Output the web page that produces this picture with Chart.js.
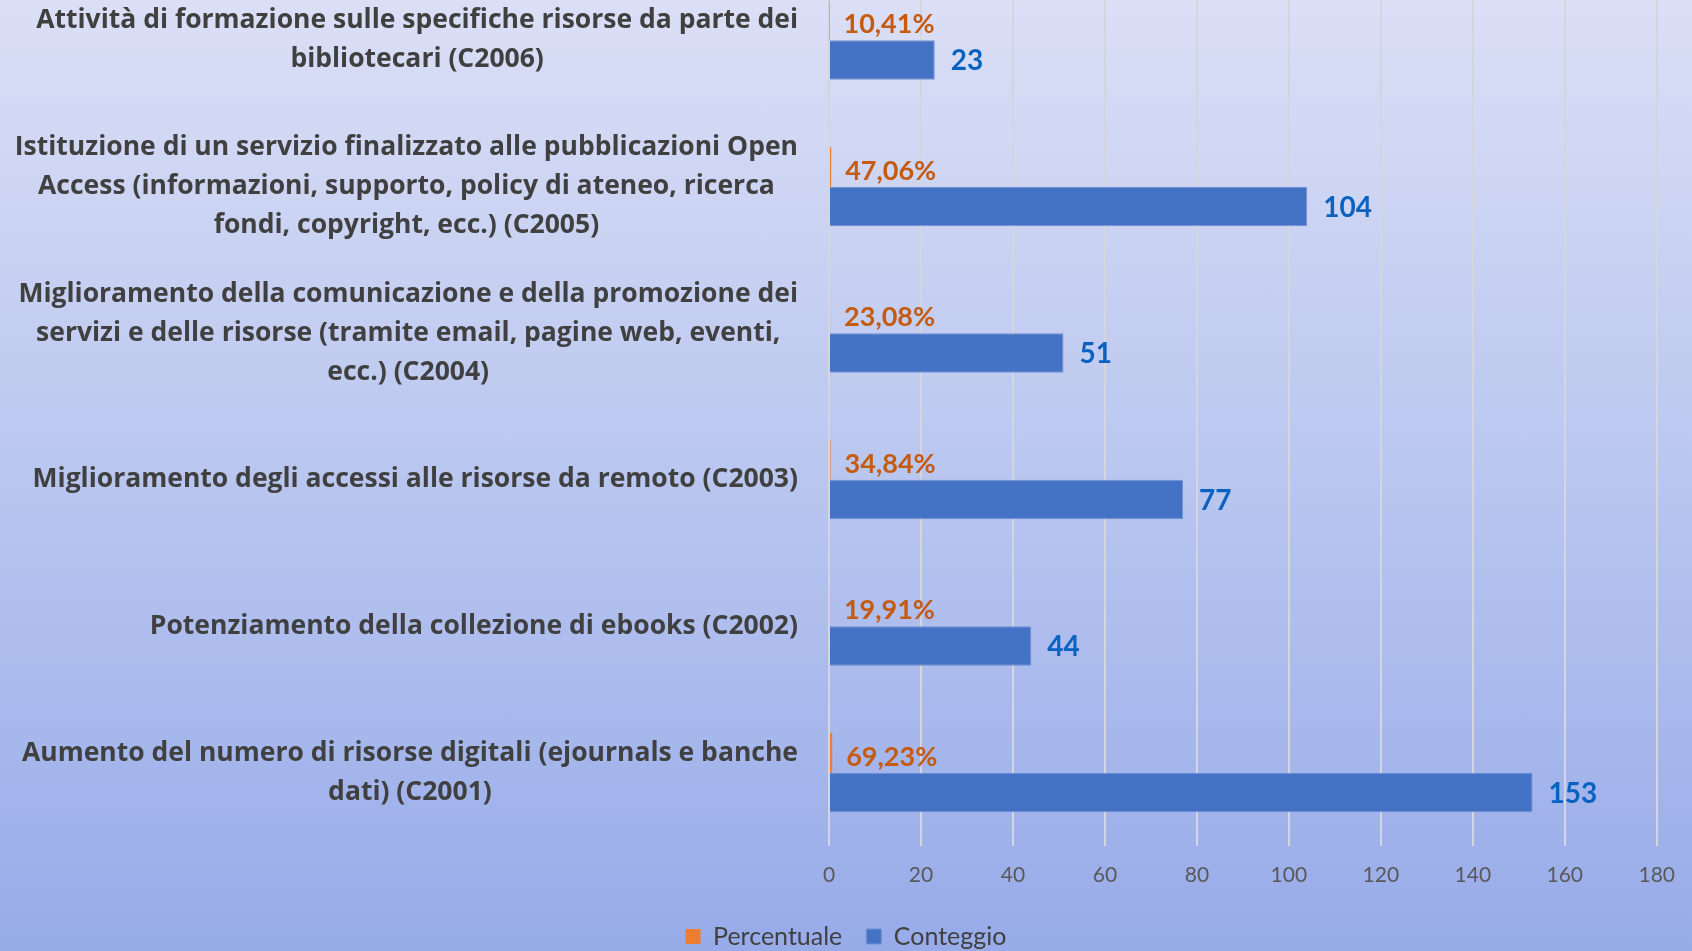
<!DOCTYPE html>
<html>
<head>
<meta charset="utf-8">
<script src="https://cdn.jsdelivr.net/npm/chart.js@4.4.1/dist/chart.umd.min.js"></script>
<style>
  html, body { margin: 0; padding: 0; width: 1692px; height: 951px; overflow: hidden; }
  body { background: linear-gradient(to bottom, #dbdff6 0%, #b9c6ef 50%, #97abe9 100%); position: relative; }
  #chart { position: absolute; left: 0; top: -33px; }
</style>
</head>
<body>
<canvas id="chart" width="1692" height="992"></canvas>
<script>
// categories, top to bottom
const categories = [
    ['Attività di formazione sulle specifiche risorse da parte dei', 'bibliotecari (C2006)'],
    ['Istituzione di un servizio finalizzato alle pubblicazioni Open', 'Access (informazioni, supporto, policy di ateneo, ricerca', 'fondi, copyright, ecc.) (C2005)'],
    ['Miglioramento della comunicazione e della promozione dei', 'servizi e delle risorse (tramite email, pagine web, eventi,', 'ecc.) (C2004)'],
    ['Miglioramento degli accessi alle risorse da remoto (C2003)'],
    ['Potenziamento della collezione di ebooks (C2002)'],
    ['Aumento del numero di risorse digitali (ejournals e banche', 'dati) (C2001)']
];
const percentuale = [0.1041, 0.4706, 0.2308, 0.3484, 0.1991, 0.6923];
const conteggio = [23, 104, 51, 77, 44, 153];
const xTicks = [0, 20, 40, 60, 80, 100, 120, 140, 160, 180];

const labelFont = 'bold 26.5px "Open Sans", Lato, sans-serif';

const drawLabels = {
    id: 'drawLabels',
    afterDatasetsDraw(chart) {
        const ctx = chart.ctx;
        const yScale = chart.scales.y;
        ctx.save();
        // category labels: block right-aligned, lines centered inside the block
        ctx.font = labelFont;
        ctx.fillStyle = '#404040';
        ctx.textAlign = 'center';
        ctx.textBaseline = 'middle';
        const lineH = 39;
        const right = chart.chartArea.left - 31;
        categories.forEach((lines, i) => {
            const yc = yScale.getPixelForValue(i);
            const w = Math.max(...lines.map(l => ctx.measureText(l).width));
            const cx = right - w / 2;
            const y0 = yc - (lines.length - 1) * lineH / 2;
            lines.forEach((l, k) => ctx.fillText(l, cx, y0 + k * lineH));
        });
        // value labels
        ctx.textAlign = 'left';
        const m0 = chart.getDatasetMeta(0);
        ctx.font = 'bold 27px Lato, "Open Sans", sans-serif';
        ctx.fillStyle = '#c55a11';
        m0.data.forEach((bar, i) => {
            ctx.fillText((percentuale[i] * 100).toFixed(2).replace('.', ',') + '%', bar.x + 14, bar.y + 4);
        });
        const m1 = chart.getDatasetMeta(1);
        ctx.font = 'bold 28px Lato, "Open Sans", sans-serif';
        ctx.fillStyle = '#0a62c0';
        m1.data.forEach((bar, i) => {
            ctx.fillText(String(conteggio[i]), bar.x + 16, bar.y + 1);
        });
        ctx.restore();
    }
};

new Chart(document.getElementById('chart'), {
    type: 'bar',
    data: {
        labels: categories.map(c => c.join(' ')),
        datasets: [{
            label: 'Percentuale',
            data: percentuale,
            backgroundColor: '#ed7d31',
            borderWidth: 0
        }, {
            label: 'Conteggio',
            data: conteggio,
            backgroundColor: '#4472c4',
            borderColor: '#7191d2',
            borderWidth: 1
        }]
    },
    options: {
        indexAxis: 'y',
        responsive: false,
        animation: false,
        layout: { padding: { left: 34, right: 34, top: 0, bottom: 0 } },
        datasets: { bar: { categoryPercentage: 0.54, barPercentage: 1 } },
        scales: {
            x: {
                min: 0,
                max: 180,
                afterBuildTicks: s => { s.ticks = xTicks.map(v => ({ value: v })); },
                grid: { color: '#d3d5df', lineWidth: 2, drawTicks: false },
                border: { display: false },
                ticks: { color: '#595959', font: { family: 'Lato, "Open Sans", sans-serif', size: 21 }, padding: 17 },
                afterFit: s => { s.height = 54; }
            },
            y: {
                grid: { display: false },
                border: { display: false },
                ticks: { display: false },
                afterFit: s => { s.width = 795; }
            }
        },
        plugins: {
            legend: {
                position: 'bottom',
                labels: {
                    color: '#404040',
                    font: { family: 'Lato, "Open Sans", sans-serif', size: 25 },
                    boxWidth: 15,
                    boxHeight: 15,
                    padding: 24
                }
            },
            tooltip: { enabled: false }
        }
    },
    plugins: [drawLabels]
});
</script>
</body>
</html>
